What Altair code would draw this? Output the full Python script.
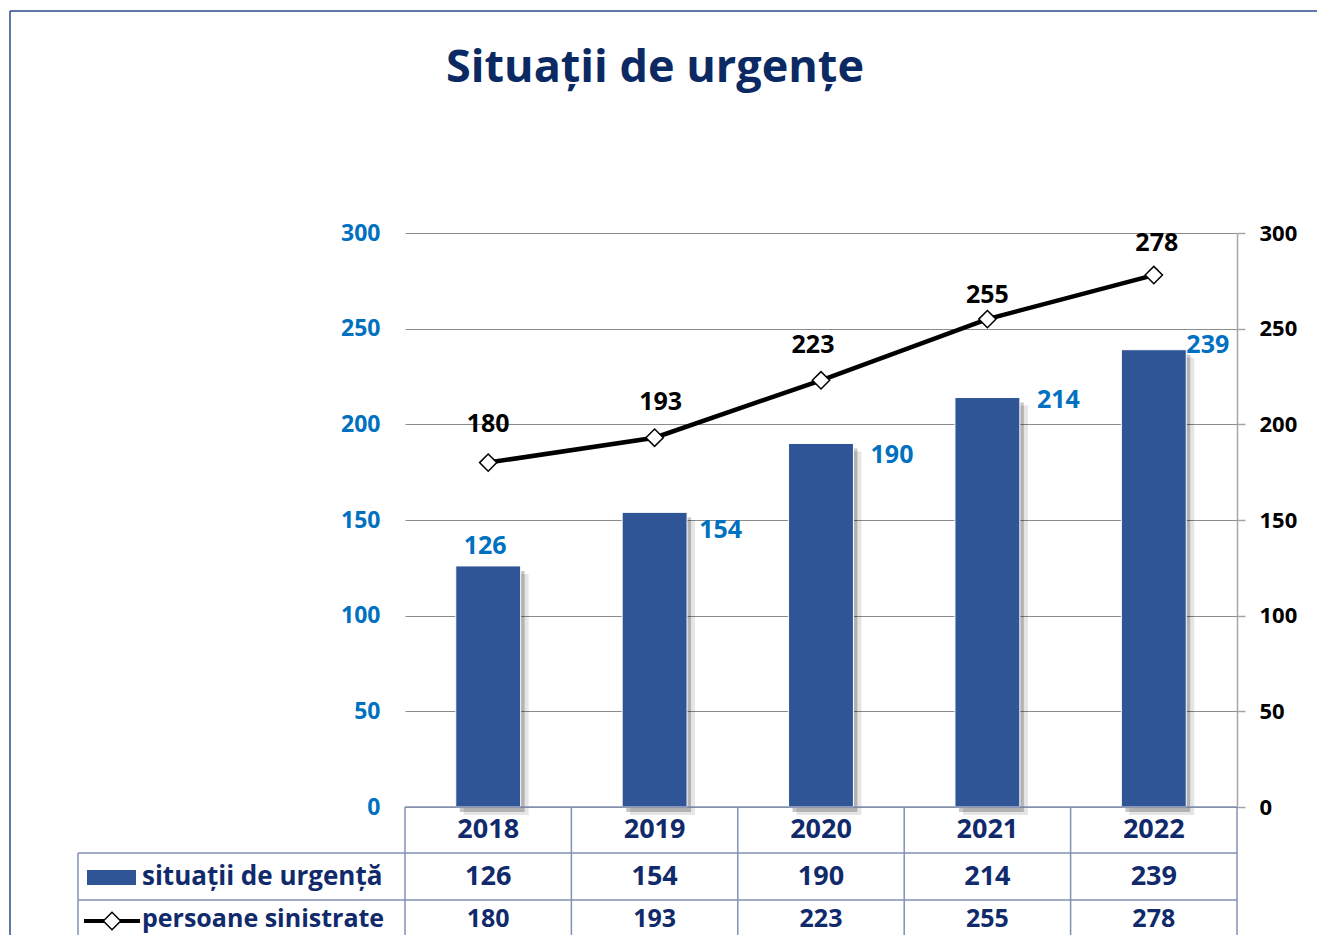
import altair as alt
import pandas as pd

# ---------------- data ----------------
years = ["2018", "2019", "2020", "2021", "2022"]
situatii = [126, 154, 190, 214, 239]
persoane = [180, 193, 223, 255, 278]
y_ticks = [0, 50, 100, 150, 200, 250, 300]
title_text = "Situații de urgențe"
series_names = ["situații de urgență", "persoane sinistrate"]

df = pd.DataFrame({"year": years, "situatii": situatii, "persoane": persoane})

# ---------------- style ----------------
W, H = 832, 574
STEP = W / len(years)
FONT = "Open Sans"
NAVY = "#102A6B"
TITLE_C = "#0B2A63"
BLUE = "#0070C0"
BAR = "#2F5597"
GRID = "#8C8C8C"
AXISC = "#A6A6A6"
TABLE = "#8391B3"
FRAME = "#2B4A8A"

xenc = alt.X("year:N", sort=years, axis=None,
             scale=alt.Scale(paddingInner=0.61, paddingOuter=0.305))
yscale = alt.Scale(domain=[0, 300], nice=False)

base = alt.Chart(df)


def one(**kw):
    return alt.Chart(pd.DataFrame({"k": [0], **kw}))


# shadows
shadow1 = base.mark_bar(color="#000000", opacity=0.22, xOffset=4, yOffset=5).encode(
    x=xenc, y=alt.Y("situatii:Q", scale=yscale, axis=None))
shadow2 = base.mark_bar(color="#000000", opacity=0.10, xOffset=8, yOffset=8).encode(
    x=xenc, y=alt.Y("situatii:Q", scale=yscale, axis=None))

bars = base.mark_bar(color=BAR, stroke="white", strokeWidth=1).encode(
    x=xenc,
    y=alt.Y("situatii:Q", scale=yscale,
            axis=alt.Axis(orient="left", values=y_ticks, grid=True, gridColor=GRID,
                          gridWidth=1, domain=False, ticks=False, labelPadding=25,
                          labelColor=BLUE, labelFont=FONT, labelFontSize=23,
                          labelFontWeight="bold", title=None)))

line = base.mark_line(color="black", strokeWidth=4.5).encode(
    x=xenc,
    y=alt.Y("persoane:Q", scale=yscale,
            axis=alt.Axis(orient="right", values=y_ticks, grid=False, domain=True,
                          domainColor=AXISC, domainWidth=1.5, ticks=True,
                          tickColor=AXISC, tickWidth=1.5, tickSize=8, labelPadding=14,
                          labelColor="black", labelFont=FONT, labelFontSize=22,
                          labelFontWeight="bold", title=None)))

points = base.mark_point(shape="diamond", filled=True, fill="white", stroke="black",
                         strokeWidth=1.5, size=300, opacity=1).encode(
    x=xenc, y=alt.Y("persoane:Q", scale=yscale, axis=None))

layers = [shadow2, shadow1, bars, line, points]

# data labels (per-point nudges as in the original)
bar_nudge = {"2018": (-3, -20), "2019": (66, 18), "2020": (71, 12), "2021": (71, 2), "2022": (54, -5)}
line_nudge = {"2018": (0, -39), "2019": (6, -36), "2020": (-8, -35), "2021": (0, -24), "2022": (3, -32)}
for yr in years:
    dx, dy = bar_nudge[yr]
    layers.append(base.transform_filter(alt.datum.year == yr).mark_text(
        font=FONT, fontSize=25, fontWeight="bold", color=BLUE, dx=dx, dy=dy,
        baseline="middle", align="center").encode(
        x=xenc, y=alt.Y("situatii:Q", scale=yscale, axis=None), text="situatii:Q"))
    dx, dy = line_nudge[yr]
    layers.append(base.transform_filter(alt.datum.year == yr).mark_text(
        font=FONT, fontSize=25, fontWeight="bold", color="black", dx=dx, dy=dy,
        baseline="middle", align="center").encode(
        x=xenc, y=alt.Y("persoane:Q", scale=yscale, axis=None), text="persoane:Q"))

# title
layers.append(one(t=[title_text]).mark_text(
    font=FONT, fontSize=45, fontWeight="bold", color=TITLE_C, align="center",
    baseline="middle").encode(x=alt.value(250), y=alt.value(-165), text="t:N"))

# frame
layers.append(one().mark_rule(color=FRAME, strokeWidth=1.5).encode(
    x=alt.value(-395), x2=alt.value(930), y=alt.value(-222)))
layers.append(one().mark_rule(color=FRAME, strokeWidth=1.5).encode(
    x=alt.value(-395), y=alt.value(-222), y2=alt.value(760)))

# table lines
layers.append(one().mark_rule(color=TABLE, strokeWidth=1.5).encode(
    x=alt.value(0), x2=alt.value(W), y=alt.value(H)))
for yy in (620, 667):
    layers.append(one().mark_rule(color=TABLE, strokeWidth=1.5).encode(
        x=alt.value(-327), x2=alt.value(W), y=alt.value(yy)))
layers.append(base.mark_rule(color=TABLE, strokeWidth=1.5, xOffset=-STEP / 2).encode(
    x=xenc, y=alt.value(H), y2=alt.value(760)))
layers.append(one().mark_rule(color=TABLE, strokeWidth=1.5).encode(
    x=alt.value(W), y=alt.value(H), y2=alt.value(760)))
layers.append(one().mark_rule(color=TABLE, strokeWidth=1.5).encode(
    x=alt.value(-327), y=alt.value(620), y2=alt.value(760)))

# table texts
tstyle = dict(font=FONT, fontSize=27, fontWeight="bold", color=NAVY,
              align="center", baseline="middle")
tstyle2 = dict(tstyle, fontSize=25)
layers.append(base.mark_text(**tstyle).encode(x=xenc, y=alt.value(597), text="year:N"))
layers.append(base.mark_text(**tstyle).encode(x=xenc, y=alt.value(644), text="situatii:Q"))
layers.append(base.mark_text(**tstyle2).encode(x=xenc, y=alt.value(686), text="persoane:Q"))

lstyle = dict(font=FONT, fontSize=26, fontWeight="bold", color=NAVY,
              align="left", baseline="middle")
layers.append(one(t=[series_names[0]]).mark_text(**lstyle).encode(
    x=alt.value(-263), y=alt.value(644), text="t:N"))
layers.append(one(t=[series_names[1]]).mark_text(**dict(lstyle, fontSize=25)).encode(
    x=alt.value(-263), y=alt.value(686), text="t:N"))

# legend keys
layers.append(one().mark_rect(color=BAR).encode(
    x=alt.value(-318), x2=alt.value(-269), y=alt.value(637), y2=alt.value(652)))
layers.append(one().mark_rule(color="black", strokeWidth=4).encode(
    x=alt.value(-321), x2=alt.value(-265), y=alt.value(688)))
layers.append(one().mark_point(shape="diamond", filled=True, fill="white", stroke="black",
                               strokeWidth=1.5, size=300, opacity=1).encode(
    x=alt.value(-293), y=alt.value(688)))

chart = alt.layer(*layers).resolve_scale(y="independent").properties(
    width=W, height=H,
    autosize=alt.AutoSizeParams(type="none"),
    padding={"left": 397, "top": 225, "right": 80, "bottom": 128},
    background="white",
).configure_view(stroke=None)

chart.save("out.html", embed_options={"renderer": "svg", "actions": False})
